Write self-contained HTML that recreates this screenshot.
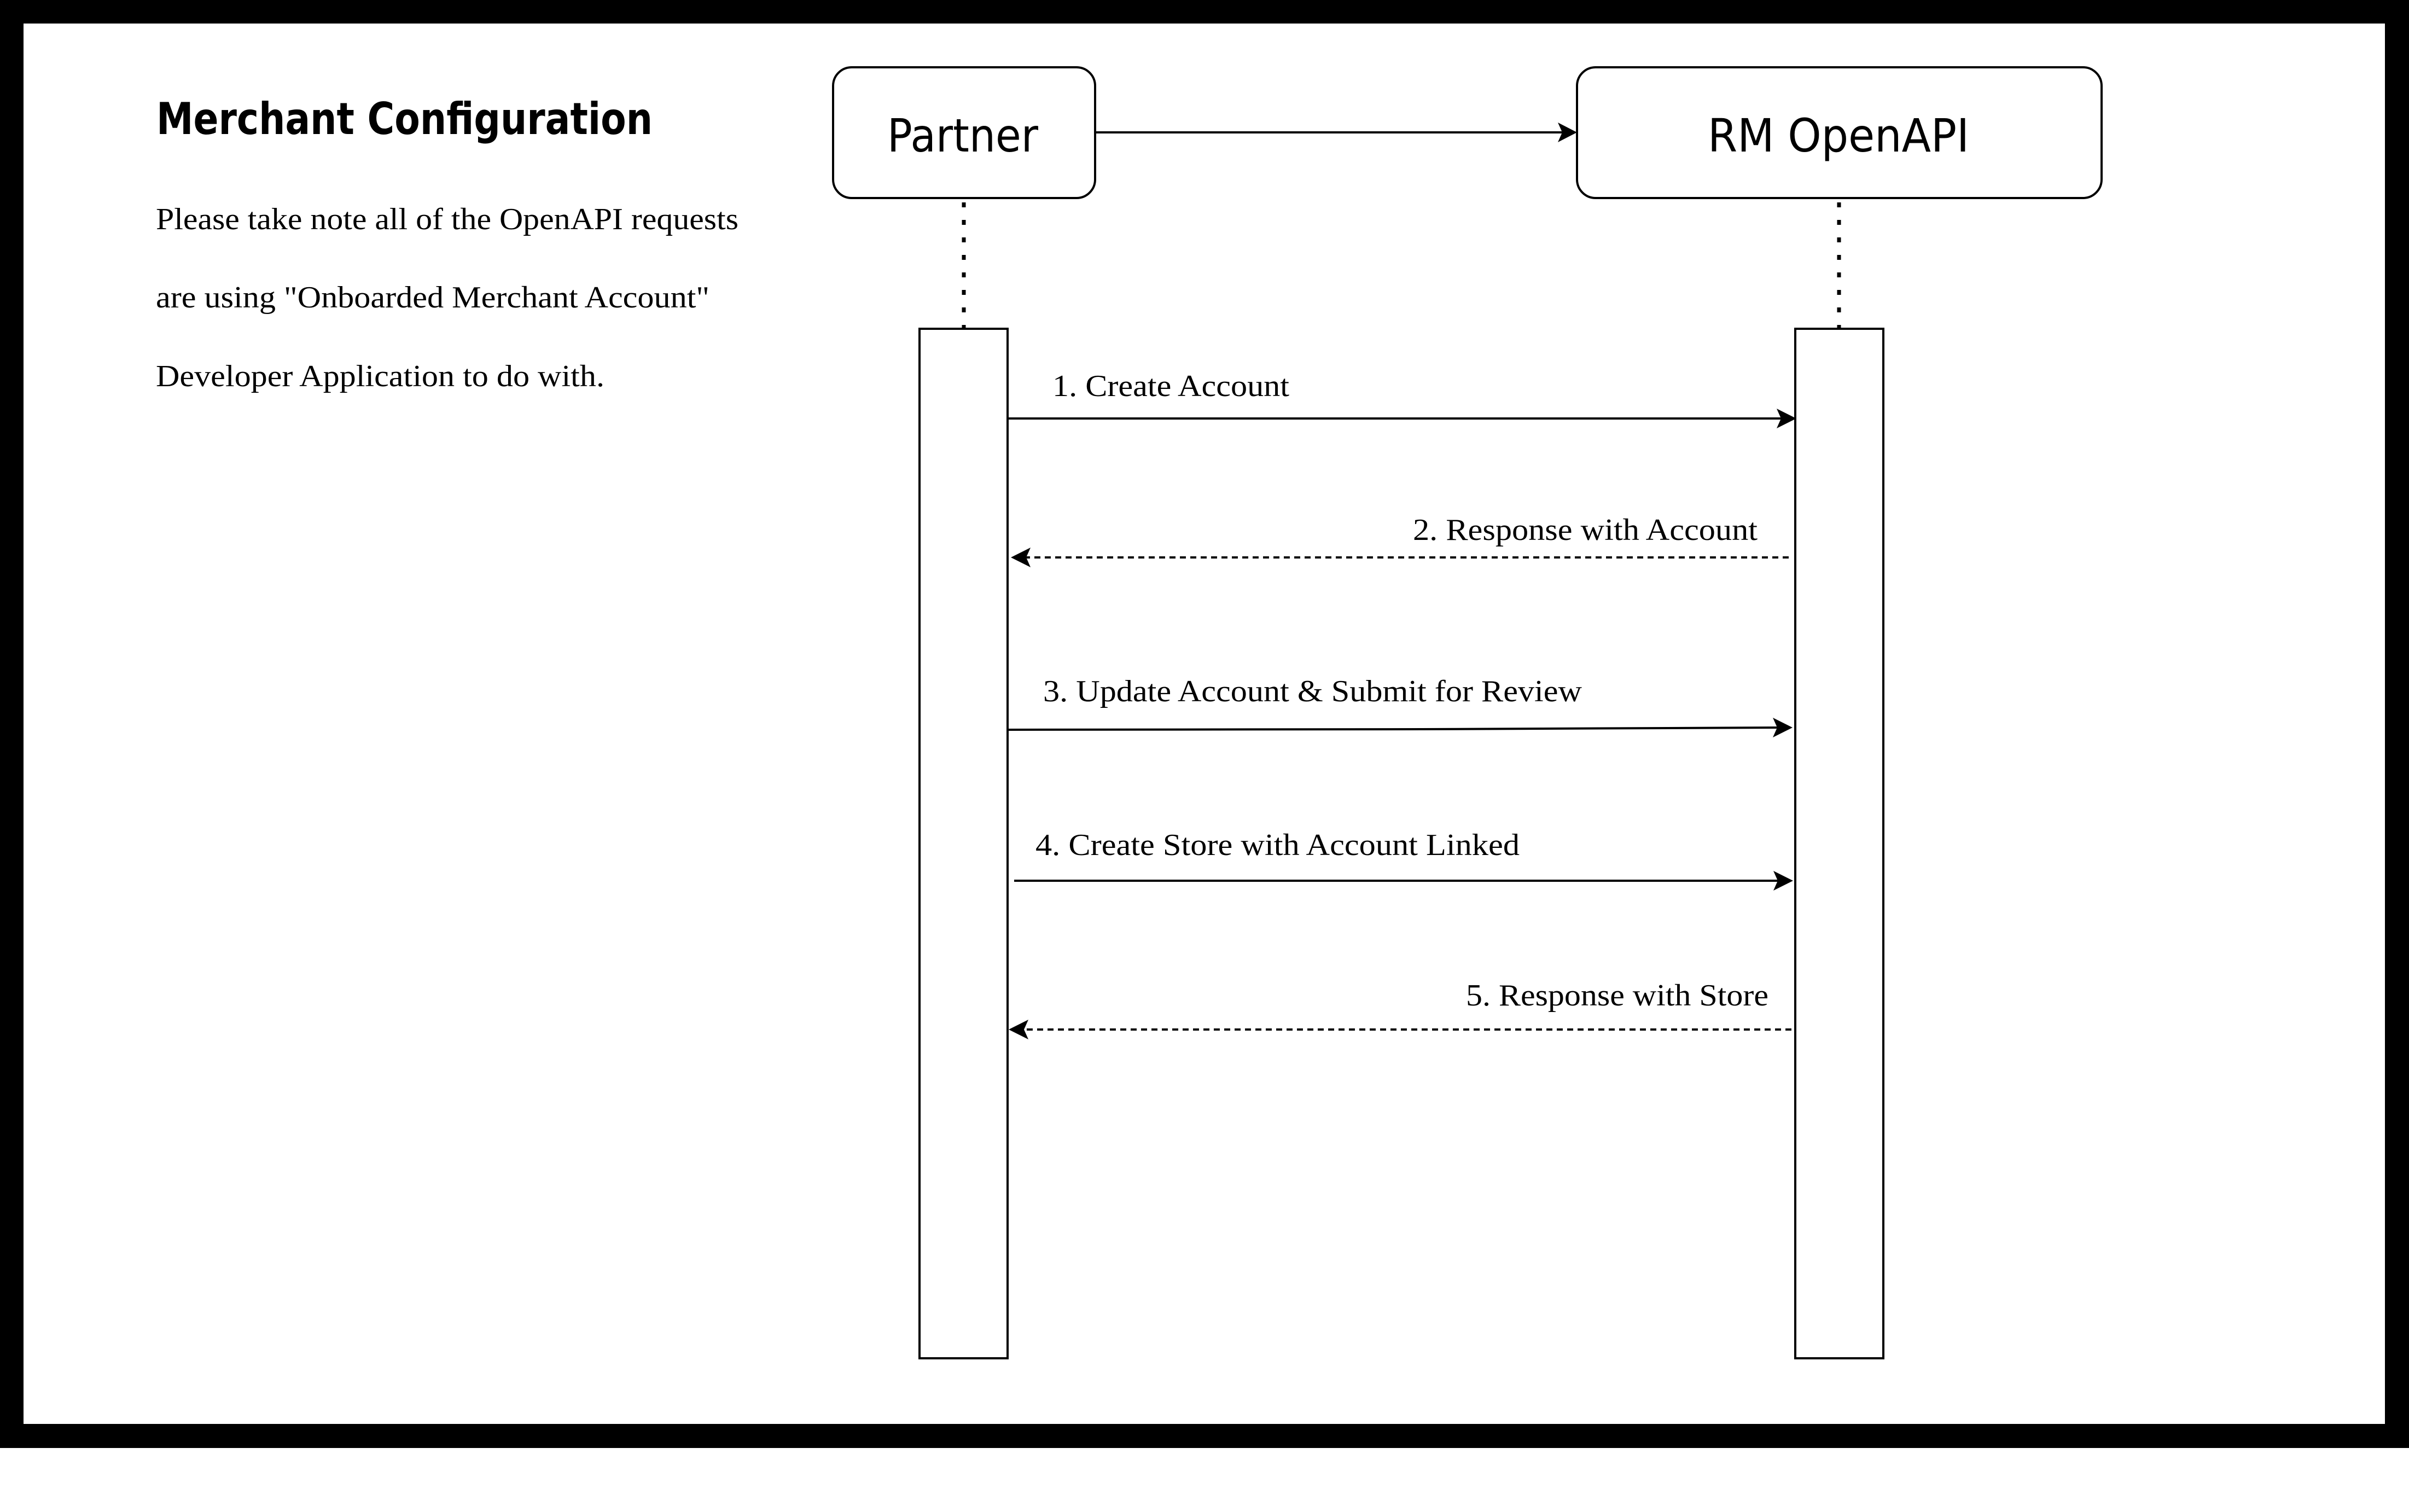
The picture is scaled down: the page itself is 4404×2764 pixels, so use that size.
<!DOCTYPE html>
<html><head><meta charset="utf-8"><style>
html,body{margin:0;padding:0;background:#fff}
svg{display:block}
.s{font-family:"Liberation Serif",serif;font-size:56px;fill:#000}
.c{font-family:"DejaVu Sans",sans-serif;fill:#000}
</style></head><body>
<svg width="4404" height="2764" viewBox="0 0 4404 2764" xmlns="http://www.w3.org/2000/svg">
<defs>
<marker id="a" markerWidth="12" markerHeight="12" refX="10" refY="6" orient="auto" markerUnits="userSpaceOnUse" viewBox="0 0 12 12">
</marker>
</defs>
<rect x="0" y="0" width="4404" height="2647" fill="#000"/>
<rect x="43" y="43" width="4317" height="2560" fill="#fff"/>

<text class="c" x="286" y="245" font-size="80" font-weight="bold" textLength="907" lengthAdjust="spacingAndGlyphs">Merchant Configuration</text>
<text class="s" x="285" y="419" textLength="1065" lengthAdjust="spacingAndGlyphs">Please take note all of the OpenAPI requests</text>
<text class="s" x="285" y="562" textLength="1012" lengthAdjust="spacingAndGlyphs">are using "Onboarded Merchant Account"</text>
<text class="s" x="285" y="706" textLength="820" lengthAdjust="spacingAndGlyphs">Developer Application to do with.</text>

<rect x="1523" y="123" width="479" height="239" rx="34" fill="#fff" stroke="#000" stroke-width="4"/>
<rect x="2883" y="123" width="959" height="239" rx="34" fill="#fff" stroke="#000" stroke-width="4"/>
<text class="c" x="1622" y="277" font-size="84" textLength="276" lengthAdjust="spacingAndGlyphs">Partner</text>
<text class="c" x="3122" y="277" font-size="84" textLength="478" lengthAdjust="spacingAndGlyphs">RM OpenAPI</text>

<line x1="2002" y1="242" x2="2860" y2="242" stroke="#000" stroke-width="4"/>
<path d="M2883 242 L2848 224 L2856 242 L2848 260 Z" fill="#000"/>

<line x1="1762" y1="370" x2="1762" y2="600" stroke="#000" stroke-width="7" stroke-dasharray="9 23"/>
<line x1="3362" y1="370" x2="3362" y2="600" stroke="#000" stroke-width="7" stroke-dasharray="9 23"/>

<rect x="1681" y="601" width="161" height="1882" fill="#fff" stroke="#000" stroke-width="4"/>
<rect x="3282" y="601" width="161" height="1882" fill="#fff" stroke="#000" stroke-width="4"/>

<!-- 1 -->
<text class="s" x="1924" y="724" textLength="433" lengthAdjust="spacingAndGlyphs">1. Create Account</text>
<line x1="1842" y1="765" x2="3262" y2="765" stroke="#000" stroke-width="4"/>
<path d="M3284 765 L3248 747 L3256 765 L3248 783 Z" fill="#000"/>
<!-- 2 -->
<text class="s" x="3213" y="987" text-anchor="end" textLength="630" lengthAdjust="spacingAndGlyphs">2. Response with Account</text>
<line x1="3270" y1="1019" x2="1870" y2="1019" stroke="#000" stroke-width="4" stroke-dasharray="11 8"/>
<path d="M1848 1019 L1884 1001 L1876 1019 L1884 1037 Z" fill="#000"/>
<!-- 3 -->
<text class="s" x="1907" y="1282" textLength="985" lengthAdjust="spacingAndGlyphs">3. Update Account &amp; Submit for Review</text>
<path d="M1842 1334 L2600 1333 L3255 1330" fill="none" stroke="#000" stroke-width="4"/>
<path d="M3277 1330 L3241 1312 L3249 1330 L3241 1348 Z" fill="#000"/>
<!-- 4 -->
<text class="s" x="1893" y="1563" textLength="885" lengthAdjust="spacingAndGlyphs">4. Create Store with Account Linked</text>
<line x1="1854" y1="1610" x2="3256" y2="1610" stroke="#000" stroke-width="4"/>
<path d="M3278 1610 L3242 1592 L3250 1610 L3242 1628 Z" fill="#000"/>
<!-- 5 -->
<text class="s" x="3233" y="1838" text-anchor="end" textLength="553" lengthAdjust="spacingAndGlyphs">5. Response with Store</text>
<line x1="3275" y1="1882" x2="1866" y2="1882" stroke="#000" stroke-width="4" stroke-dasharray="11 8"/>
<path d="M1844 1882 L1880 1864 L1872 1882 L1880 1900 Z" fill="#000"/>
</svg>
</body></html>
